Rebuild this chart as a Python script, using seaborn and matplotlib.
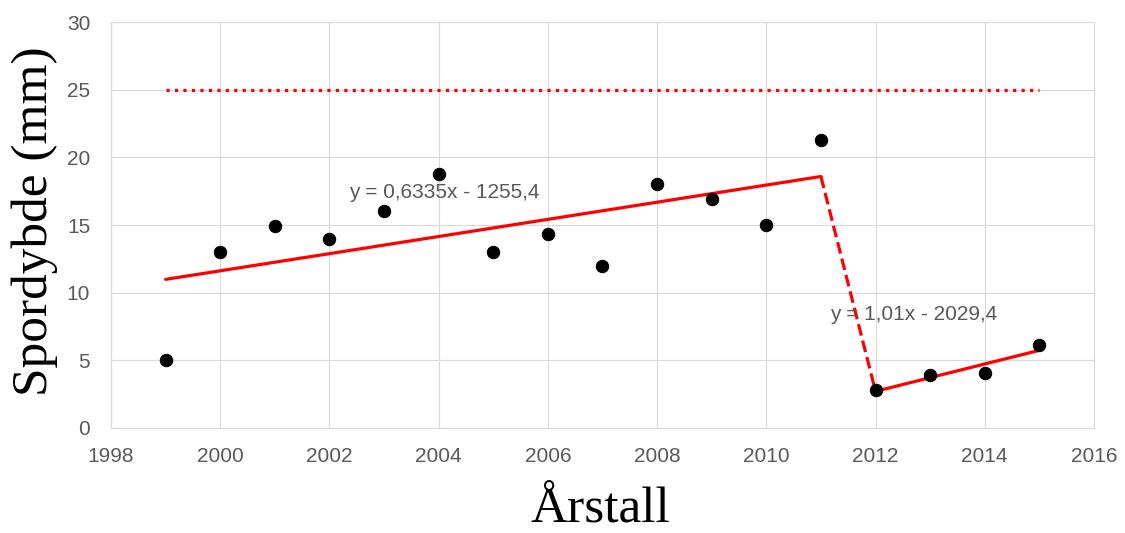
import numpy as np
import pandas as pd
import seaborn as sns
import matplotlib.pyplot as plt

# data
years = [1999, 2000, 2001, 2002, 2003, 2004, 2005, 2006, 2007, 2008,
         2009, 2010, 2011, 2012, 2013, 2014, 2015]
depth = [5.0, 13.0, 14.9, 14.0, 16.0, 18.8, 13.0, 14.3, 12.0, 18.0,
         16.9, 15.0, 21.3, 2.8, 3.9, 4.1, 6.1]
limit = 25
split_year = 2012
eq_labels = ["y = 0,6335x - 1255,4", "y = 1,01x - 2029,4"]
eq_pos = [(2002.35, 17.4), (2011.17, 8.4)]

df = pd.DataFrame({"year": years, "depth": depth})
early = df[df["year"] < split_year]
late = df[df["year"] >= split_year]

sns.set_style("whitegrid", {"grid.color": "#d9d9d9", "axes.edgecolor": "#d9d9d9"})

fig = plt.figure(figsize=(11.25, 5.33), dpi=100)
ax = fig.add_axes([0.0987, 0.197, 0.8737, 0.7617])

red = "#ff0000"

# limit line
lim_df = pd.DataFrame({"year": [years[0], years[-1]], "depth": [limit, limit]})
sns.lineplot(data=lim_df, x="year", y="depth", ax=ax, color=red,
             linewidth=2.3, linestyle=":", zorder=2)

# linear trends for the two periods
fits = []
for part in (early, late):
    k, m = np.polyfit(part["year"], part["depth"], 1)
    xs = np.array([part["year"].min(), part["year"].max()])
    fits.append((xs, k * xs + m))
    sns.lineplot(x=xs, y=k * xs + m, ax=ax, color=red, linewidth=2.3, zorder=3)

# dashed jump between the trends
jump_x = [fits[0][0][-1], fits[1][0][0]]
jump_y = [fits[0][1][-1], fits[1][1][0]]
sns.lineplot(x=jump_x, y=jump_y, ax=ax, color=red, linewidth=2.3,
             linestyle="--", zorder=3)

sns.scatterplot(data=df, x="year", y="depth", ax=ax, color="black",
                s=80, edgecolor="black", zorder=4)

for txt, (tx, ty) in zip(eq_labels, eq_pos):
    ax.text(tx, ty, txt, fontsize=15, color="#595959", va="center",
            family="Liberation Sans", zorder=5)

ax.set_xlim(1998, 2016)
ax.set_ylim(0, 30)
ax.set_xticks(range(1998, 2017, 2))
ax.set_yticks(range(0, 31, 5))
ax.tick_params(length=0, labelsize=15, labelcolor="#595959")
ax.tick_params(axis="x", pad=14)
ax.tick_params(axis="y", pad=15)
for lab in ax.get_xticklabels() + ax.get_yticklabels():
    lab.set_family("Liberation Sans")

ax.set_xlabel("Årstall", fontsize=37, family="Liberation Serif", color="black")
ax.set_ylabel("Spordybde (mm)", fontsize=37, family="Liberation Serif", color="black")
ax.xaxis.set_label_coords(0.498, -0.145)
ax.yaxis.set_label_coords(-0.054, 0.51)

fig.savefig("out.png", dpi=100)
